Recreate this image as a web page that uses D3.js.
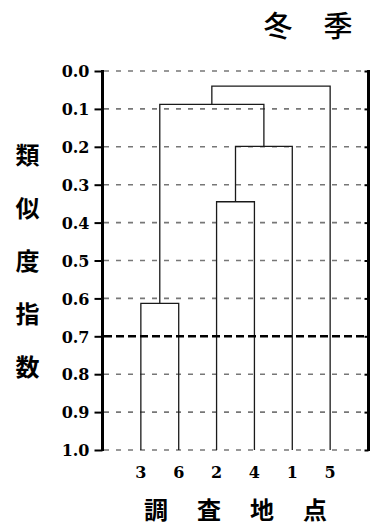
<!DOCTYPE html>
<html>
<head>
<meta charset="utf-8">
<script src="https://cdn.jsdelivr.net/npm/d3@7"></script>
<style>
  html, body { margin: 0; padding: 0; background: #fff; }
  svg { display: block; }
</style>
</head>
<body>
<svg id="chart" width="374" height="526"></svg>
<script>
// Survey sites in dendrogram leaf order
const sites = ["3", "6", "2", "4", "1", "5"];

// Cluster merges (left member, right member, similarity index at merge)
const mergeLeft   = ["3", "2",    "2-4",   "3-6",     "3-6-2-4-1"];
const mergeRight  = ["6", "4",    "1",     "2-4-1",   "5"];
const mergeHeight = [0.613, 0.345, 0.199,  0.088,     0.040];

// Y axis ticks and reference threshold
const yTicks = [0, 0.1, 0.2, 0.3, 0.4, 0.5, 0.6, 0.7, 0.8, 0.9, 1.0];
const threshold = 0.7;

const title = ["冬", "季"];
const yTitle = ["類", "似", "度", "指", "数"];
const xTitle = ["調", "査", "地", "点"];

const svg = d3.select("#chart");

const plotLeft = 103, plotRight = 368, plotTop = 71, plotBottom = 450;

const y = d3.scaleLinear().domain([0, 1]).range([plotTop, plotBottom]);
const x = d3.scalePoint().domain(sites).range([plotLeft, plotRight]).padding(1);

// Horizontal dashed grid lines
svg.append("g")
  .selectAll("line")
  .data(yTicks.filter(t => t !== threshold))
  .join("line")
  .attr("x1", plotLeft + 1).attr("x2", plotRight - 1)
  .attr("y1", d => y(d)).attr("y2", d => y(d))
  .attr("stroke", "#777")
  .attr("stroke-width", 1.6)
  .attr("stroke-dasharray", "5,7");

// Dendrogram: node positions (x) and heights
const nodeX = new Map(sites.map(s => [s, x(s)]));
const nodeH = new Map(sites.map(s => [s, 1.0]));

const dendro = svg.append("g")
  .attr("fill", "none")
  .attr("stroke", "#1a1a1a")
  .attr("stroke-width", 1.3);

mergeLeft.forEach((l, i) => {
  const r = mergeRight[i];
  const h = mergeHeight[i];
  const xl = nodeX.get(l), xr = nodeX.get(r);
  const path = d3.path();
  path.moveTo(xl, y(nodeH.get(l)));
  path.lineTo(xl, y(h));
  path.lineTo(xr, y(h));
  path.lineTo(xr, y(nodeH.get(r)));
  dendro.append("path").attr("d", path.toString());
  const id = l + "-" + r;
  nodeX.set(id, (xl + xr) / 2);
  nodeH.set(id, h);
});

// Threshold line
svg.append("line")
  .attr("x1", plotLeft + 1).attr("x2", plotRight - 1)
  .attr("y1", y(threshold)).attr("y2", y(threshold))
  .attr("stroke", "#000")
  .attr("stroke-width", 2.4)
  .attr("stroke-dasharray", "8,4");

// Left axis
const leftAxis = d3.axisLeft(y)
  .tickValues(yTicks)
  .tickSize(8)
  .tickPadding(5)
  .tickFormat(d3.format(".1f"));

const gL = svg.append("g")
  .attr("transform", `translate(${plotLeft - 0.5},0)`)
  .call(leftAxis);
gL.select(".domain").remove();
gL.append("line")
  .attr("x1", 0).attr("x2", 0)
  .attr("y1", plotTop - 1).attr("y2", plotBottom + 1)
  .attr("stroke", "#000").attr("stroke-width", 3);
gL.selectAll(".tick line").attr("stroke", "#000").attr("stroke-width", 2);
gL.selectAll(".tick text")
  .attr("fill", "#000")
  .attr("font-family", "DejaVu Serif")
  .attr("font-weight", "bold")
  .attr("font-size", 16)
  .attr("dy", "0.36em");

// Right axis (ticks pointing inward)
const rightAxis = d3.axisLeft(y).tickValues(yTicks).tickSize(4).tickFormat("");
const gR = svg.append("g")
  .attr("transform", `translate(${plotRight + 0.5},0)`)
  .call(rightAxis);
gR.select(".domain").remove();
gR.append("line")
  .attr("x1", 0).attr("x2", 0)
  .attr("y1", plotTop - 1).attr("y2", plotBottom + 1)
  .attr("stroke", "#000").attr("stroke-width", 3);
gR.selectAll(".tick line").attr("stroke", "#000").attr("stroke-width", 2);

// Site labels
svg.append("g")
  .selectAll("text")
  .data(sites)
  .join("text")
  .attr("x", d => x(d))
  .attr("y", 472)
  .attr("dy", "0.36em")
  .attr("text-anchor", "middle")
  .attr("font-family", "DejaVu Serif")
  .attr("font-weight", "bold")
  .attr("font-size", 16)
  .text(d => d);

const cjk = "'Noto Sans CJK JP', 'Noto Sans CJK SC', sans-serif";

// Chart title
svg.append("g")
  .selectAll("text")
  .data(title)
  .join("text")
  .attr("x", (d, i) => 278 + i * 60)
  .attr("y", 27)
  .attr("dy", "0.36em")
  .attr("text-anchor", "middle")
  .attr("font-family", cjk)
  .attr("font-weight", 500)
  .attr("font-size", 29)
  .text(d => d);

// Y axis title (vertical)
svg.append("g")
  .selectAll("text")
  .data(yTitle)
  .join("text")
  .attr("x", 27.5)
  .attr("y", (d, i) => 155 + i * 53)
  .attr("dy", "0.36em")
  .attr("text-anchor", "middle")
  .attr("font-family", cjk)
  .attr("font-weight", 700)
  .attr("font-size", 24)
  .text(d => d);

// X axis title
svg.append("g")
  .selectAll("text")
  .data(xTitle)
  .join("text")
  .attr("x", (d, i) => 156 + i * 53)
  .attr("y", 510)
  .attr("dy", "0.36em")
  .attr("text-anchor", "middle")
  .attr("font-family", cjk)
  .attr("font-weight", 700)
  .attr("font-size", 24)
  .text(d => d);
</script>
</body>
</html>
